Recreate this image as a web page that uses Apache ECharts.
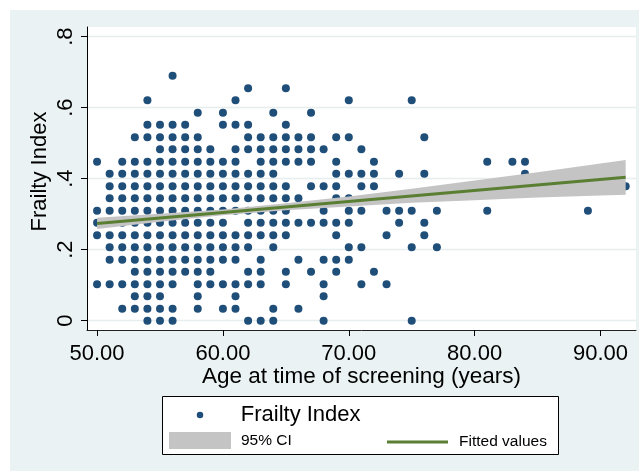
<!DOCTYPE html>
<html><head><meta charset="utf-8">
<script src="https://cdn.jsdelivr.net/npm/echarts@6/dist/echarts.min.js"></script>
<style>html,body{margin:0;padding:0;background:#fff;}#c{width:639px;height:471px;}</style>
</head><body><div id="c"></div>
<script>
// Frailty Index levels (rows of the scatter) and the ages observed at each level
const frailtyLevels = [0, 0.034, 0.069, 0.103, 0.138, 0.172, 0.207, 0.241, 0.276, 0.310, 0.345,
  0.379, 0.414, 0.448, 0.483, 0.517, 0.552, 0.586, 0.621, 0.655, 0.690];
const agesAtLevel = [
  [54,55,56,62,63,64,68,75],
  [52,53,54,55,56,58,60,61,64,66],
  [53,54,55,58,61,68],
  [50,51,52,53,54,55,56,58,59,60,61,62,63,65,68,71,73],
  [53,54,55,56,57,58,59,62,63,65,67,69,72],
  [51,52,53,54,55,56,57,58,59,60,61,63,66,68,69,70],
  [51,52,53,54,55,56,57,58,59,60,61,62,64,70,71,75,77],
  [50,51,52,53,54,55,56,57,58,59,60,61,62,63,64,65,69,73,76],
  [50,51,52,53,54,55,56,57,58,59,60,62,63,64,65,66,67,68,69,70,74,76],
  [50,51,52,53,54,55,56,57,58,59,60,61,62,63,64,65,68,70,71,73,74,75,77,81,89],
  [51,52,53,54,55,56,57,58,59,60,61,62,63,64,65,66,69,70],
  [51,52,53,54,55,56,57,58,59,60,61,62,63,64,65,67,68,69,71,72,92],
  [51,52,53,54,55,56,57,58,59,60,61,62,63,64,69,70,71,72,74,76,84],
  [50,52,53,54,55,56,57,58,59,60,61,63,64,65,66,67,69,72,81,83,84],
  [55,56,57,58,59,61,62,63,64,65,66,67,68,71],
  [53,54,55,56,57,58,62,63,64,65,66,67,69,70,76],
  [54,55,56,57,60,61,62,65],
  [58,60,64,67],
  [54,61,70,75],
  [62,65],
  [56]
];
// 95% confidence band (read at selected ages)
const ciAges  = [50, 55, 60, 65, 70, 75, 80, 85, 90, 92];
const ciLower = [0.258, 0.279, 0.297, 0.311, 0.322, 0.332, 0.339, 0.347, 0.353, 0.355];
const ciUpper = [0.290, 0.301, 0.313, 0.331, 0.350, 0.372, 0.395, 0.418, 0.443, 0.453];
// Fitted values line
const fitAges   = [50, 92];
const fitValues = [0.274, 0.404];
// Tick labels
const xTicks = [50, 60, 70, 80, 90];
const yTicks = [0, 0.2, 0.4, 0.6, 0.8];

const FONT = '"Liberation Sans", Arial, sans-serif';
const scatterData = [];
frailtyLevels.forEach((lv, i) => agesAtLevel[i].forEach(a => scatterData.push([a, lv])));
const ciData = ciAges.map((a, i) => [a, ciLower[i], ciUpper[i]]);
const fitData = fitAges.map((a, i) => [a, fitValues[i]]);

const chart = echarts.init(document.getElementById('c'), null, {renderer: 'canvas'});
chart.setOption({
  animation: false,
  backgroundColor: '#eaf2f3',
  graphic: [
    {type: 'rect', shape: {x: 0, y: 0, width: 639, height: 10}, style: {fill: '#fff'}, silent: true},
    {type: 'rect', shape: {x: 0, y: 0, width: 10, height: 471}, style: {fill: '#fff'}, silent: true},
    {type: 'rect', shape: {x: 162.5, y: 396.5, width: 396, height: 58}, style: {fill: '#fff', stroke: '#000', lineWidth: 1}, silent: true, z: 1}
  ],
  grid: {left: 87, top: 27, width: 549, height: 303, show: true, backgroundColor: '#fff', borderWidth: 0, containLabel: false, outerBoundsMode: 'none'},
  xAxis: {
    type: 'value', min: 49.2, max: 92.82,
    name: 'Age at time of screening (years)', nameLocation: 'middle', nameGap: 35, nameMoveOverlap: false,
    nameTextStyle: {fontFamily: FONT, fontSize: 22.5, color: '#000'},
    axisLine: {show: true, onZero: false, lineStyle: {color: '#222', width: 1}},
    axisTick: {show: true, length: 6, customValues: xTicks, lineStyle: {color: '#000'}},
    axisLabel: {customValues: xTicks, margin: 13, fontFamily: FONT, fontSize: 22, color: '#000', formatter: v => v.toFixed(2)},
    splitLine: {show: false}
  },
  yAxis: {
    type: 'value', min: -0.0262, max: 0.8273,
    name: 'Frailty Index', nameLocation: 'middle', nameGap: 36.5, nameMoveOverlap: false,
    nameTextStyle: {fontFamily: FONT, fontSize: 22, color: '#000', padding: [0, 0, 0, 14]},
    axisLine: {show: true, onZero: false, lineStyle: {color: '#000', width: 1}},
    axisTick: {show: true, length: 6, customValues: yTicks, lineStyle: {color: '#000'}},
    axisLabel: {customValues: yTicks, rotate: 90, margin: 10, fontFamily: FONT, fontSize: 22, color: '#000',
      formatter: v => (v === 0 ? '0' : String(v).replace(/^0\./, '.'))},
    splitLine: {show: true, lineStyle: {color: '#e6eef0', width: 1.3}}
  },
  legend: [
    {left: 196.75, top: 404, padding: 0, itemGap: 0, selectedMode: false, itemWidth: 6.5, itemHeight: 6.5,
      data: [{name: 'Frailty Index', icon: 'circle', itemStyle: {color: '#1f4e79', opacity: 1}}],
      textStyle: {fontFamily: FONT, fontSize: 22, color: '#000', padding: [0, 0, 0, 32.5]}},
    {left: 169, top: 432, padding: 0, itemGap: 0, selectedMode: false, itemWidth: 62, itemHeight: 17,
      data: [{name: '95% CI', icon: 'rect'}],
      textStyle: {fontFamily: FONT, fontSize: 15.5, color: '#000', padding: [0, 0, 0, 5]}},
    {left: 387, top: 434, padding: 0, itemGap: 0, selectedMode: false, itemWidth: 61, itemHeight: 3,
      data: [{name: 'Fitted values', icon: 'rect'}],
      textStyle: {fontFamily: FONT, fontSize: 15.5, color: '#000', padding: [0, 0, 0, 6]}}
  ],
  series: [
    {name: 'Frailty Index', type: 'scatter', data: scatterData, symbol: 'circle', symbolSize: 8,
      itemStyle: {color: '#1f4e79', opacity: 1}, z: 2, silent: true},
    {name: '95% CI', type: 'custom', data: ciData, encode: {x: 0, y: [1, 2]},
      itemStyle: {color: '#c4c4c4'}, z: 3, silent: true,
      renderItem: function (params, api) {
        if (params.dataIndex !== 0) return null;
        const pts = [];
        for (let i = 0; i < ciAges.length; i++) pts.push(api.coord([ciAges[i], ciUpper[i]]));
        for (let i = ciAges.length - 1; i >= 0; i--) pts.push(api.coord([ciAges[i], ciLower[i]]));
        return {type: 'polygon', shape: {points: pts}, style: {fill: '#c4c4c4'}};
      }},
    {name: 'Fitted values', type: 'line', data: fitData, symbol: 'none',
      itemStyle: {color: '#5a7f33'}, lineStyle: {color: '#5a7f33', width: 3}, z: 4, silent: true}
  ]
});
</script></body></html>
